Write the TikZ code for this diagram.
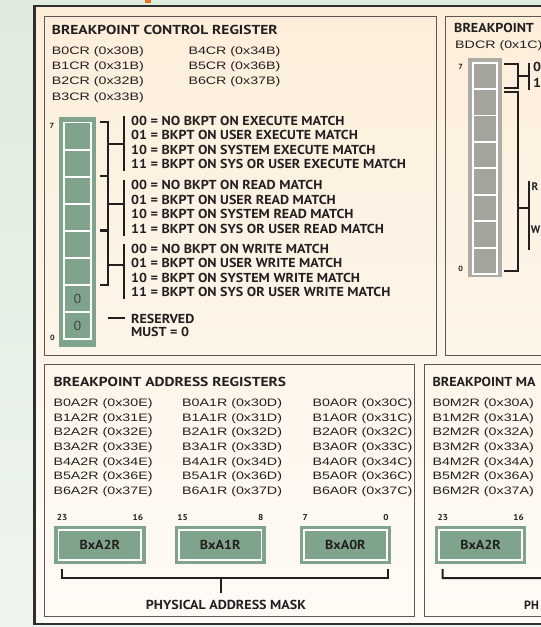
\documentclass[tikz,border=0pt]{standalone}
\usepackage{fontspec}
\usetikzlibrary{positioning,calc}
\newfontfamily\arialf[FakeStretch=1.32]{Liberation Sans}
\newfontfamily\myriadf[FakeStretch=1.08]{PT Sans}
\newfontfamily\myriadt[FakeStretch=1.19]{PT Sans}
\newfontfamily\myriadn{PT Sans}
\definecolor{bkFondoA}{HTML}{DFEBDD}
\definecolor{bkFondoB}{HTML}{EEF5EE}
\definecolor{bkCremaA}{HTML}{FDEEDA}
\definecolor{bkCremaB}{HTML}{FEFBF6}
\definecolor{bkMarco}{HTML}{2F2F2F}
\definecolor{bkBorde}{HTML}{5C5752}
\definecolor{bkVerde}{HTML}{80A38B}
\definecolor{bkGris}{HTML}{A4A49D}
\definecolor{bkGrisMarco}{HTML}{ADADA5}
\definecolor{bkTinta}{HTML}{231F20}
\definecolor{bkNaranja}{HTML}{E8761E}
\tikzset{
  panel/.style={draw=bkBorde, line width=0.9pt},
  titulo/.style={anchor=base west, inner sep=0pt, text=bkTinta,
    font=\myriadt\bfseries\fontsize{13}{13}\selectfont},
  tituloCorto/.style={titulo, font=\myriadf\bfseries\fontsize{13}{13}\selectfont},
  registro/.style={anchor=base west, inner sep=0pt, text=bkTinta,
    font=\arialf\fontsize{10.8}{10.8}\selectfont},
  opcion/.style={anchor=base west, inner sep=0pt, text=bkTinta,
    font=\myriadf\bfseries\fontsize{13}{13}\selectfont},
  opcionCorta/.style={opcion, font=\myriadn\bfseries\fontsize{11}{11}\selectfont},
  bitnum/.style={inner sep=0pt, text=bkTinta,
    font=\myriadf\bfseries\fontsize{7.5}{7.5}\selectfont},
  bitnumG/.style={bitnum, font=\myriadf\bfseries\fontsize{8.5}{8.5}\selectfont},
  cero/.style={inner sep=0pt, text=bkTinta!85,
    font=\myriadf\fontsize{13}{13}\selectfont},
  celda/.style={rectangle, draw=white, line width=1.8pt, inner sep=0pt,
    fill=bkVerde, minimum width=26.6pt, minimum height=27.1pt},
  celdaGris/.style={celda, fill=bkGris, minimum width=23.8pt,
    minimum height=26.44pt},
  campo/.style={rectangle, fill=bkVerde, inner sep=0pt, minimum width=91.4pt,
    minimum height=38pt, text=bkTinta,
    font=\myriadf\bfseries\fontsize{13}{13}\selectfont},
  llave/.style={draw=bkTinta, line width=2pt},
  barra/.style={draw=bkTinta, line width=1.6pt},
}
\begin{document}
\begin{tikzpicture}[x=1pt, y=-1pt]
    \useasboundingbox (0,0) rectangle (541,627);
    \clip (0,0) rectangle (541,627);
    \shade[top color=bkFondoA, bottom color=bkFondoB] (0,0) rectangle (541,627);
    \fill[bkNaranja] (145,0) rectangle (150.5,3);
    \shade[top color=bkCremaA, bottom color=bkCremaB] (34.7,5.8) rectangle (560,624);
    \draw[bkMarco, line width=2.6pt] (560,5.8) -- (34.7,5.8) -- (34.7,624) -- (560,624);
    \draw[panel] (44,16) rectangle (436,355);
    \draw[panel] (445,16) rectangle (560,355);
    \draw[panel] (44,364) rectangle (414,616);
    \draw[panel] (424,364) rectangle (560,616);

    \node[titulo] (tcr) at (51.7,34) {BREAKPOINT CONTROL REGISTER};
    \foreach \k/\h in {0/30,1/31,2/32,3/33}
      \node[registro] (cra\k) at (51.7,54+15.4*\k) {B\k CR (0x\h B)};
    \foreach \k/\h in {4/34,5/36,6/37}
      \node[registro] (crb\k) at (188.3,54+15.4*\k-61.6) {B\k CR (0x\h B)};
    \fill[bkVerde] (59,116.5) rectangle (96,346.5);
    \foreach \i in {0,...,7}
      \node[celda] (c\i) at (77.5,136.05+27.1*\i) {};
    \node[cero] (z6) at (c6) {0};
    \node[cero] (z7) at (c7) {0};
    \node[bitnum] (n7) at (52,126) {7};
    \node[bitnum] (n0) at (52.5,337.5) {0};
    \foreach \g/\u/\v/\w/\m/\b in {0/0/1/EXECUTE/144/125, 1/2/3/READ/204/189.5, 2/4/5/WRITE/264.5/253}{
      \draw[llave] ($(c\u.north east)+(8.7,0.5)$) -- ++(8,0) |- ($(c\v.south east)+(8.7,-1.5)$);
      \draw[llave] (107.5,\m) -- (124,\m);
      \draw[barra] (124,\b-9.5) -- (124,\b+46);
      \node[opcion] (o\g-0) at (131,\b) {00 = NO BKPT ON \w\ MATCH};
      \node[opcion] (o\g-1) at (131,\b+14.5) {01 = BKPT ON USER \w\ MATCH};
      \node[opcion] (o\g-2) at (131,\b+29) {10 = BKPT ON SYSTEM \w\ MATCH};
      \node[opcion] (o\g-3) at (131,\b+43.5) {11 = BKPT ON SYS OR USER \w\ MATCH};
    }
    \draw[llave] (108,317.5) -- (124.5,317.5);
    \node[opcion] (rsv) at (131,323) {RESERVED};
    \node[opcion] (must) at (131,336.5) {MUST = 0};

    \node[tituloCorto] (tdc) at (454,32.5) {BREAKPOINT};
    \node[registro] (bdcr) at (455,48.5) {BDCR (0x1C)};
    \fill[bkGrisMarco] (468.3,58.3) rectangle (501.7,277.3);
    \foreach \i in {0,...,7}
      \node[celdaGris] (d\i) at (485,75.82+26.44*\i) {};
    \node[bitnum] (m7) at (460.7,66.7) {7};
    \node[bitnum] (m0) at (460.7,269.3) {0};
    \draw[llave] ($(d0.north east)+(6.6,2.4)$) -- ++(13.8,0) |- ($(d0.south east)+(6.6,-1.7)$);
    \draw[llave] (517.3,76) -- (528.7,76);
    \draw[barra] (528.7,63.3) -- (528.7,90);
    \node[opcion] (p0) at (533,71.7) {0};
    \node[opcion] (p1) at (533,87.3) {1};
    \draw[llave] ($(d1.north east)+(6.6,3.7)$) -- ++(13.3,0) |- ($(d7.south east)+(6.6,-3.6)$);
    \draw[llave] (516.8,207.5) -- (529,207.5);
    \draw[barra] (529,180.5) -- (529,250);
    \node[opcionCorta] (pr) at (531.5,190.7) {R};
    \node[opcionCorta] (pw) at (530.6,233.3) {W};

    \node[titulo] (tar) at (53.3,386.5) {BREAKPOINT ADDRESS REGISTERS};
    \node[tituloCorto] (tmr) at (432.3,386.5) {BREAKPOINT MA};
    \foreach \k/\h in {0/30,1/31,2/32,3/33,4/34,5/36,6/37}{
      \node[registro] (ra\k) at (53.3,406.7+14.6*\k) {B\k A2R (0x\h E)};
      \node[registro] (rb\k) at (182,406.7+14.6*\k) {B\k A1R (0x\h D)};
      \node[registro] (rc\k) at (312.3,406.7+14.6*\k) {B\k A0R (0x\h C)};
      \node[registro] (rm\k) at (432.3,406.7+14.6*\k) {B\k M2R (0x\h A)};
    }
    \foreach \n/\x/\t/\l/\r in {a2/99.8/BxA2R/23/16, a1/220.2/BxA1R/15/8, a0/345.4/BxA0R/7/0, m2/480.6/BxA2R/23/16}{
      \node[campo] (\n) at (\x,545) {\t};
      \draw[white, line width=1.5pt] ($(\n.north west)+(4.5,4)$) rectangle ($(\n.south east)+(-4.5,-4)$);
      \node[bitnumG, anchor=base west] (\n-l) at ($(\n.north west)+(2.8,-5)$) {\l};
      \node[bitnumG, anchor=base east] (\n-r) at ($(\n.north east)+(-2.5,-5)$) {\r};
    }
    \draw[llave] ($(a2.south west)+(8,5)$) -- ++(0,9) -| ($(a0.south east)+(-3.4,5)$);
    \draw[llave] (221,578) -- (221,593);
    \node[opcion, anchor=base] (pam) at (226,609) {PHYSICAL ADDRESS MASK};
    \draw[llave] ($(m2.south west)+(8,5)$) -- ++(0,9) -- (560,578);
    \node[opcionCorta, font=\myriadn\bfseries\fontsize{12}{12}\selectfont] (pam2) at (524,609) {PH};
\end{tikzpicture}
\end{document}
